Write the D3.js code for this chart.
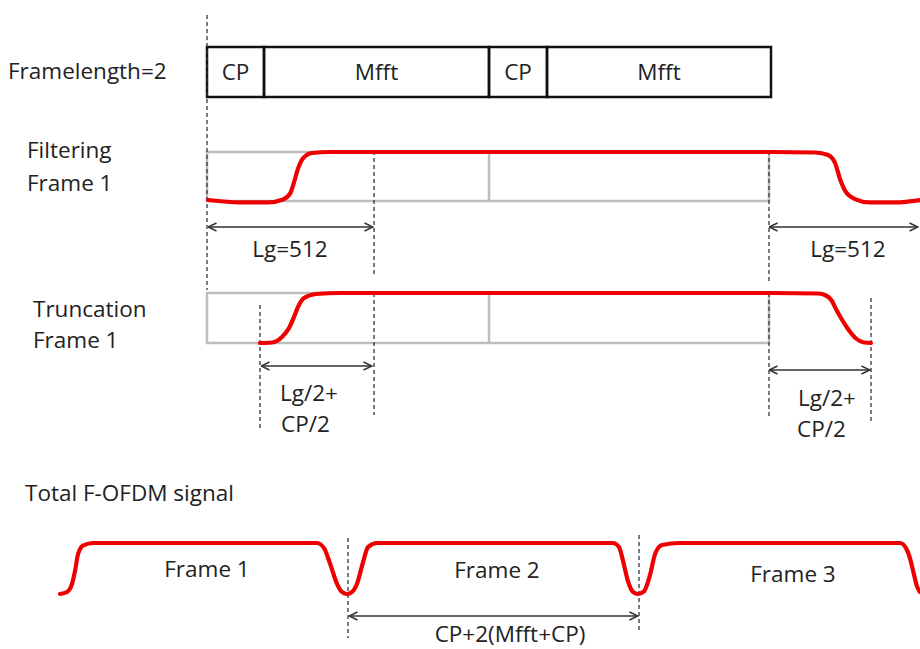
<!DOCTYPE html>
<html><head><meta charset="utf-8">
<script src="https://cdn.jsdelivr.net/npm/d3@7"></script>
<style>
html,body{margin:0;padding:0;background:#fff;}
svg{display:block;font-family:"Open Sans",sans-serif;}
</style></head>
<body><svg id="chart" width="920" height="649"></svg>
<script>
// ---- data (timeline positions in schematic time units, levels 0..1) ----
const frameSegments = [
  {label: "CP",   start: 207, end: 264},
  {label: "Mfft", start: 264, end: 489},
  {label: "CP",   start: 489, end: 547},
  {label: "Mfft", start: 547, end: 771}
];
const frameSpan = [207, 769];
const frameDivider = 489;

const filterCurve = [[208,0.02],[240,-0.03],[268,-0.03],[283,0.03],[290,0.15],[294,0.38],[298,0.66],[303,0.87],[312,0.98],[330,1],[374,1],[771,1],[815,0.99],[828,0.94],[835,0.78],[840,0.45],[846,0.18],[855,0.04],[870,-0.03],[895,-0.03],[920,0.02]];
const truncCurve = [[260,0],[272,0.01],[282,0.12],[289,0.3],[294,0.52],[298,0.72],[304,0.9],[316,0.98],[340,1],[771,1],[818,0.99],[826,0.95],[832,0.84],[836,0.68],[841,0.5],[848,0.28],[856,0.09],[864,0.01],[871,0]];
const totalCurve = [[60,0],[67,0.04],[72,0.2],[75,0.45],[78,0.78],[83,0.95],[93,1],[317,1],[324,0.9],[330,0.6],[337,0.2],[342,0.04],[347,0],[352,0.04],[357,0.2],[363,0.62],[368,0.92],[377,1],[613,1],[619,0.92],[623,0.65],[628,0.25],[633,0.04],[638,0],[644,0.05],[650,0.37],[655,0.78],[662,0.96],[680,1],[900,1],[906,0.9],[910,0.7],[914,0.38],[917,0.15],[920,0.04]];

const dashedMarkers = [
  {x: 207, y1: 15,  y2: 290},
  {x: 374, y1: 151, y2: 275},
  {x: 374, y1: 293, y2: 415},
  {x: 769, y1: 151, y2: 281},
  {x: 769, y1: 293, y2: 418},
  {x: 260, y1: 305, y2: 430},
  {x: 871, y1: 298, y2: 422},
  {x: 348, y1: 538, y2: 638},
  {x: 639, y1: 535, y2: 633}
];
const spans = [
  {x1: 208, x2: 373, y: 227},
  {x1: 769, x2: 918, y: 227},
  {x1: 261, x2: 372, y: 366},
  {x1: 769, x2: 870, y: 370},
  {x1: 349, x2: 638, y: 616}
];
const labels = [
  {text: "Framelength=2", x: 8,   y: 79,  anchor: "start"},
  {text: "Filtering",     x: 27,  y: 158, anchor: "start"},
  {text: "Frame 1",       x: 27,  y: 191, anchor: "start"},
  {text: "Lg=512",        x: 290, y: 257, anchor: "middle"},
  {text: "Lg=512",        x: 848, y: 257, anchor: "middle"},
  {text: "Truncation",    x: 33,  y: 317, anchor: "start"},
  {text: "Frame 1",       x: 33,  y: 348, anchor: "start"},
  {text: "Lg/2+",         x: 280, y: 401, anchor: "start"},
  {text: "CP/2",          x: 281, y: 432, anchor: "start"},
  {text: "Lg/2+",         x: 798, y: 406, anchor: "start"},
  {text: "CP/2",          x: 797, y: 437, anchor: "start"},
  {text: "Total F-OFDM signal", x: 25, y: 501, anchor: "start"},
  {text: "Frame 1",       x: 207, y: 577, anchor: "middle"},
  {text: "Frame 2",       x: 497, y: 578, anchor: "middle"},
  {text: "Frame 3",       x: 793, y: 582, anchor: "middle"},
  {text: "CP+2(Mfft+CP)", x: 510, y: 642, anchor: "middle"}
];

// ---- rows (pixel band for each level-axis) ----
const rows = {
  frame:  {top: 47,  bottom: 97},
  filter: {top: 152, bottom: 201},
  trunc:  {top: 293, bottom: 343},
  total:  {top: 543, bottom: 594}
};

const svg = d3.select("#chart");
const x = d3.scaleLinear().domain([0, 920]).range([0, 920]);
const yOf = r => d3.scaleLinear().domain([0, 1]).range([rows[r].bottom, rows[r].top]);
const FS = 22.5;

// defs: arrowheads
const defs = svg.append("defs");
function marker(id, orient) {
  defs.append("marker").attr("id", id).attr("viewBox", "0 0 10 10")
    .attr("refX", 9.5).attr("refY", 5).attr("markerWidth", 10).attr("markerHeight", 10)
    .attr("markerUnits", "userSpaceOnUse").attr("orient", orient)
    .append("path").attr("d", "M1,1 L9.5,5 L1,9").attr("fill", "none")
    .attr("stroke", "#333").attr("stroke-width", 1.5);
}
marker("arrEnd", "auto");
marker("arrStart", "auto-start-reverse");

// frame structure boxes
const yF = yOf("frame");
svg.append("g").selectAll("rect").data(frameSegments).join("rect")
  .attr("x", d => x(d.start)).attr("y", yF(1))
  .attr("width", d => x(d.end) - x(d.start)).attr("height", yF(0) - yF(1))
  .attr("fill", "none").attr("stroke", "#111").attr("stroke-width", 2.5);
svg.append("g").selectAll("text").data(frameSegments).join("text")
  .attr("x", d => x((d.start + d.end) / 2)).attr("y", 80)
  .attr("text-anchor", "middle").attr("font-size", FS).attr("fill", "#222")
  .text(d => d.label);

// gray reference frames
["filter", "trunc"].forEach(r => {
  const y = yOf(r);
  const g = svg.append("g").attr("stroke", "#bdbdbd").attr("stroke-width", 2.5).attr("fill", "none");
  g.append("rect").attr("x", x(frameSpan[0])).attr("y", y(1))
    .attr("width", x(frameSpan[1]) - x(frameSpan[0])).attr("height", y(0) - y(1));
  g.append("line").attr("x1", x(frameDivider)).attr("x2", x(frameDivider))
    .attr("y1", y(1)).attr("y2", y(0));
});

// dashed markers
svg.append("g").selectAll("line").data(dashedMarkers).join("line")
  .attr("x1", d => x(d.x)).attr("x2", d => x(d.x))
  .attr("y1", d => d.y1).attr("y2", d => d.y2)
  .attr("stroke", "#333").attr("stroke-width", 1.3).attr("stroke-dasharray", "4,3");

// red curves
const curves = [["filter", filterCurve], ["trunc", truncCurve], ["total", totalCurve]];
curves.forEach(([r, pts]) => {
  const y = yOf(r);
  const line = d3.line().x(d => x(d[0])).y(d => y(d[1])).curve(d3.curveMonotoneX);
  svg.append("path").datum(pts).attr("d", line).attr("fill", "none")
    .attr("stroke", "#ee0000").attr("stroke-width", 4.2)
    .attr("stroke-linecap", "round").attr("stroke-linejoin", "round");
});

// span arrows
svg.append("g").selectAll("line").data(spans).join("line")
  .attr("x1", d => x(d.x1)).attr("x2", d => x(d.x2))
  .attr("y1", d => d.y).attr("y2", d => d.y)
  .attr("stroke", "#333").attr("stroke-width", 1.5)
  .attr("marker-start", "url(#arrStart)").attr("marker-end", "url(#arrEnd)");

// labels
svg.append("g").selectAll("text").data(labels).join("text")
  .attr("x", d => d.x).attr("y", d => d.y).attr("text-anchor", d => d.anchor)
  .attr("font-size", FS).attr("fill", "#222").text(d => d.text);
</script></body></html>
